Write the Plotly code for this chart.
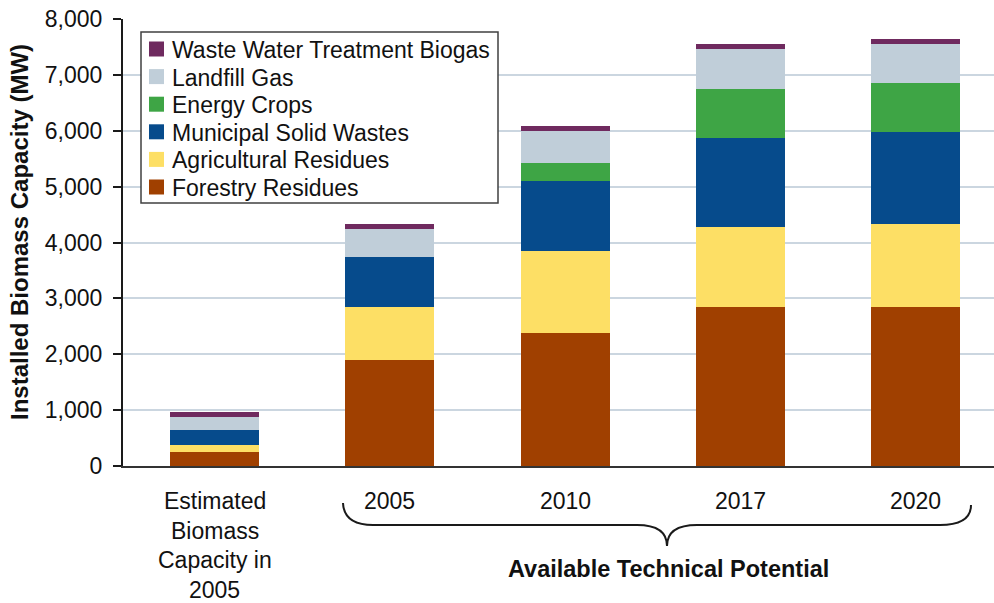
import plotly.graph_objects as go

# ---- data ----
categories = ["Estimated<br>Biomass<br>Capacity in<br>2005", "2005", "2010", "2017", "2020"]
forestry = [250, 1896, 2379, 2844, 2844]
agricultural = [126, 948, 1467, 1432, 1485]
msw = [268, 895, 1252, 1592, 1646]
energy_crops = [0, 0, 322, 876, 877]
landfill = [238, 501, 573, 716, 697]
wastewater = [84, 89, 89, 89, 90]

series_names = ["Forestry Residues", "Agricultural Residues", "Municipal Solid Wastes",
                "Energy Crops", "Landfill Gas", "Waste Water Treatment Biogas"]
series_values = [forestry, agricultural, msw, energy_crops, landfill, wastewater]
series_colors = ["#a04000", "#fddf65", "#064b8c", "#3ea545", "#c0ced9", "#6f2a5f"]

y_ticks = [0, 1000, 2000, 3000, 4000, 5000, 6000, 7000, 8000]
group_label = "Available Technical Potential"
y_title = "Installed Biomass Capacity (MW)"

FONT = "Liberation Sans, Arial, sans-serif"
TXT = "#111111"
W, H = 994, 603
ML, MR, MT, MB = 123, 0, 19, 137
PW, PH = W - ML - MR, H - MT - MB

def px(xp):
    return (xp - ML) / PW

def py(yp):
    return (H - MB - yp) / PH

xpos = list(range(len(categories)))

fig = go.Figure()
for name, vals, col in zip(series_names, series_values, series_colors):
    fig.add_trace(go.Bar(x=xpos, y=vals, name=name, marker_color=col,
                         marker_line_width=0, width=0.508, showlegend=False))

annotations = []
shapes = []
for i, lab in enumerate(categories):
    lines = lab.split("<br>")
    for j, ln in enumerate(lines):
        annotations.append(dict(x=i, xref="x", y=py(501 + j * 29.7), yref="paper",
                                text=ln, showarrow=False, xanchor="center", yanchor="middle",
                                font=dict(family=FONT, size=23, color=TXT)))
annotations.append(dict(x=px(668), xref="paper", y=py(569), yref="paper", text="<b>%s</b>" % group_label,
                        showarrow=False, xanchor="center", yanchor="middle",
                        font=dict(family=FONT, size=23.5, color=TXT)))
annotations.append(dict(x=px(19), xref="paper", y=py(232), yref="paper", text="<b>%s</b>" % y_title,
                        textangle=-90, showarrow=False, xanchor="center", yanchor="middle",
                        font=dict(family=FONT, size=24, color=TXT)))

# manual legend (top entry = last series)
shapes.append(dict(type="rect", xref="paper", yref="paper",
                   x0=px(141), x1=px(498), y0=py(32), y1=py(203),
                   fillcolor="white", line=dict(color="#404040", width=1.5), layer="above"))
for k, (name, col) in enumerate(zip(series_names[::-1], series_colors[::-1])):
    yc = 49 + k * 27.6
    shapes.append(dict(type="rect", xref="paper", yref="paper",
                       x0=px(149), x1=px(164), y0=py(yc - 7.5), y1=py(yc + 7.5),
                       fillcolor=col, line=dict(width=0), layer="above"))
    annotations.append(dict(x=px(170), xref="paper", y=py(yc + 1), yref="paper", text=name,
                            showarrow=False, xanchor="left", yanchor="middle",
                            font=dict(family=FONT, size=23, color=TXT)))

def P(x, y):
    return "%.5f,%.5f" % (px(x), py(y))

brace = ("M " + P(343, 503) + " Q " + P(344, 525) + " " + P(373, 525) +
         " L " + P(637, 525) + " Q " + P(667, 525) + " " + P(667, 546) +
         " Q " + P(667, 525) + " " + P(697, 525) +
         " L " + P(940, 525) + " Q " + P(971, 525) + " " + P(971, 505))
shapes.append(dict(type="path", path=brace, xref="paper", yref="paper",
                   line=dict(color="#1a1a1a", width=2)))

fig.update_layout(
    width=W, height=H,
    margin=dict(l=ML, r=MR, t=MT, b=MB, pad=0),
    barmode="stack",
    showlegend=False,
    plot_bgcolor="white", paper_bgcolor="white",
    font=dict(family=FONT, size=23, color=TXT),
    xaxis=dict(range=[-0.523, 4.448], showticklabels=False, ticks="", showgrid=False,
               zeroline=False, showline=True, linecolor="#333333", linewidth=1.5),
    yaxis=dict(range=[0, 8000], tickvals=y_ticks, tickformat=",", ticks="outside",
               ticklen=8, tickwidth=1.5, tickcolor="#1a1a1a", showline=True,
               linecolor="#1a1a1a", linewidth=2, gridcolor="#cbd6e0", gridwidth=1.5,
               zeroline=False, ticklabelstandoff=6,
               tickfont=dict(family=FONT, size=23, color=TXT)),
    annotations=annotations,
    shapes=shapes,
)

fig.write_html("out.html")
